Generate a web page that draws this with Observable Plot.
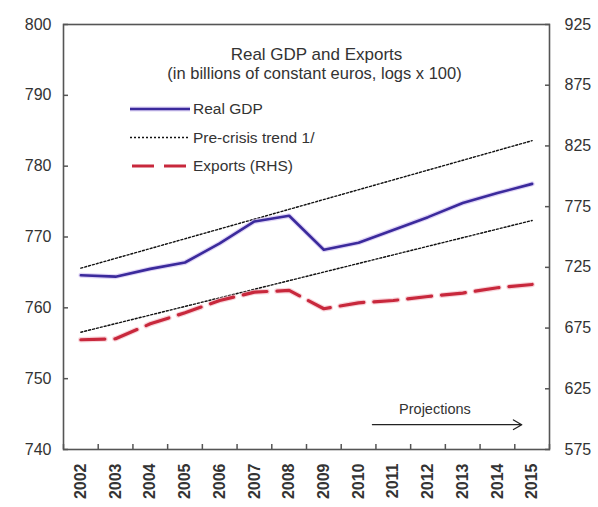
<!DOCTYPE html>
<html><head><meta charset="utf-8">
<script src="https://cdn.jsdelivr.net/npm/d3@7"></script>
<script src="https://cdn.jsdelivr.net/npm/@observablehq/plot@0.6"></script>
<style>
body{margin:0;background:#fff;}
#wrap{position:relative;width:598px;height:507px;font-family:"Liberation Sans",Arial,sans-serif;}
#legend{position:absolute;left:0;top:0;}
</style>
</head><body><div id="wrap"></div>
<script>
// ---- data ----
const years = [2002,2003,2004,2005,2006,2007,2008,2009,2010,2011,2012,2013,2014,2015];
const realGDP = [764.6,764.4,765.5,766.4,769.1,772.2,773.0,768.2,769.2,771.0,772.8,774.8,776.2,777.5];
const exportsRHS = [665.4,666.2,678.5,687.6,697.7,704.6,706.0,690.9,695.8,697.7,701.0,703.8,708.2,710.9];
const trendYears = [2002, 2015];
const trendGDP = [765.6, 783.6];
const trendExportsRHS = [671.6, 763.6];
const leftTicks = [740,750,760,770,780,790,800];
const rightTicks = [575,625,675,725,775,825,875,925];
const leftDomain = [740, 800];
const rightDomain = [575, 925];
const title = "Real GDP and Exports";
const subtitle = "(in billions of constant euros, logs x 100)";
const legendLabels = ["Real GDP", "Pre-crisis trend 1/", "Exports (RHS)"];
const projectionLabel = "Projections";
const projectionSpan = [2010.4, 2014.7];
const projectionLevel = 743.5;

// ---- helpers ----
const k = (leftDomain[1]-leftDomain[0])/(rightDomain[1]-rightDomain[0]);
const toLeft = v => leftDomain[0] + (v - rightDomain[0]) * k;
const fromLeft = v => rightDomain[0] + (v - leftDomain[0]) / k;

const series = years.map((year, i) => ({year, gdp: realGDP[i], exp: toLeft(exportsRHS[i])}));
const trendUp = trendYears.map((year, i) => ({year, v: trendGDP[i]}));
const trendLo = trendYears.map((year, i) => ({year, v: toLeft(trendExportsRHS[i])}));
const boundaries = years.map(y => y - 0.5).concat([years[years.length-1] + 0.5]);

const GDP_COLOR = "#3b2a9c";
const EXP_COLOR = "#c8283c";
const FONT = "Liberation Sans, Arial, sans-serif";

const chart = Plot.plot({
  width: 598, height: 507,
  marginLeft: 63, marginRight: 49, marginTop: 24, marginBottom: 58,
  style: {fontFamily: FONT, background: "#fff", color: "#333"},
  x: {type: "linear", domain: [boundaries[0], boundaries[boundaries.length-1]]},
  y: {domain: leftDomain},
  marks: [
    Plot.frame({stroke: "#555", strokeWidth: 1.6}),
    // left axis
    Plot.axisY({anchor: "left", ticks: leftTicks, tickSize: 0, tickPadding: 12, fontSize: 16, fill: "#333", label: null}),
    Plot.axisY({anchor: "left", ticks: leftTicks, tickSize: -5, tickFormat: () => "", stroke: "#555", strokeWidth: 1.5, label: null}),
    // right axis
    Plot.axisY({anchor: "right", ticks: rightTicks.map(toLeft), tickFormat: d => String(Math.round(fromLeft(d))), tickSize: 0, tickPadding: 15, fontSize: 16, fill: "#333", label: null}),
    Plot.axisY({anchor: "right", ticks: rightTicks.map(toLeft), tickSize: -5, tickFormat: () => "", stroke: "#555", strokeWidth: 1.5, label: null}),
    // x axis
    Plot.axisX({ticks: years, tickSize: 0, tickPadding: 14, tickRotate: -90, tickFormat: d => String(d), fontSize: 16, fontWeight: "bold", fill: "#333", label: null}),
    Plot.axisX({ticks: boundaries, tickSize: -5, tickFormat: () => "", stroke: "#555", strokeWidth: 1.5, label: null}),
    // trend lines
    Plot.line(trendUp, {x: "year", y: "v", stroke: "#111", strokeWidth: 1.4, strokeDasharray: "2,2"}),
    Plot.line(trendLo, {x: "year", y: "v", stroke: "#111", strokeWidth: 1.4, strokeDasharray: "2,2"}),
    // exports
    Plot.line(series, {x: "year", y: "exp", stroke: "#f4b8c2", strokeWidth: 5.5, strokeDasharray: "24,10", strokeOpacity: 0.6}),
    Plot.line(series, {x: "year", y: "exp", stroke: EXP_COLOR, strokeWidth: 3.2, strokeDasharray: "24,10"}),
    // GDP
    Plot.line(series, {x: "year", y: "gdp", stroke: "#c9b8f0", strokeWidth: 5, strokeOpacity: 0.6}),
    Plot.line(series, {x: "year", y: "gdp", stroke: GDP_COLOR, strokeWidth: 2.6}),
    // titles
    Plot.text([title], {frameAnchor: "top", dy: 23, dx: 10, fontSize: 17, fill: "#333"}),
    Plot.text([subtitle], {frameAnchor: "top", dy: 43, dx: 8, fontSize: 16.5, fill: "#333"}),
    // projections annotation
    Plot.text([projectionLabel], {x: [(projectionSpan[0]+projectionSpan[1])/2 - 0.35], y: [projectionLevel], dy: -15, fontSize: 14.5, fill: "#333", letterSpacing: "0.6px"}),
    Plot.arrow([projectionSpan], {x1: d => d[0], x2: d => d[1], y1: () => projectionLevel, y2: () => projectionLevel, stroke: "#222", strokeWidth: 1.3, headLength: 11})
  ]
});

const wrap = document.getElementById("wrap");
wrap.appendChild(chart);

// legend overlay
const leg = d3.select(wrap).append("svg").attr("id", "legend").attr("width", 598).attr("height", 507);
const rows = [109, 137.5, 166];
legendLabels.forEach((label, i) => {
  const g = leg.append("g").attr("transform", `translate(0,${rows[i]})`);
  if (i === 0) {
    g.append("line").attr("x1", 130).attr("x2", 190).attr("stroke", "#c9b8f0").attr("stroke-width", 5).attr("stroke-opacity", 0.6);
    g.append("line").attr("x1", 130).attr("x2", 190).attr("stroke", GDP_COLOR).attr("stroke-width", 2.6);
  } else if (i === 1) {
    g.append("line").attr("x1", 130).attr("x2", 190).attr("stroke", "#111").attr("stroke-width", 1.4).attr("stroke-dasharray", "2,2");
  } else {
    g.append("line").attr("x1", 132).attr("x2", 190).attr("stroke", EXP_COLOR).attr("stroke-width", 3.2).attr("stroke-dasharray", "22,10");
  }
  g.append("text").attr("x", 193).attr("dy", "0.35em").attr("font-size", 15.5).attr("fill", "#333")
    .attr("font-family", FONT).text(label);
});
</script>
</body></html>
